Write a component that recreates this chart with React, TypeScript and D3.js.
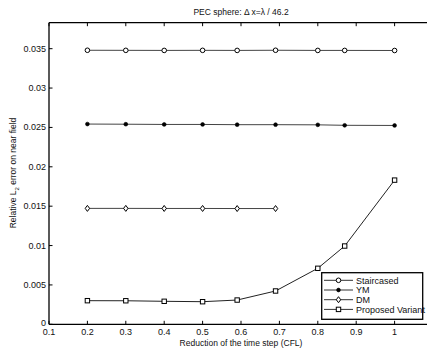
import React from "react";
import * as d3 from "d3";

const W = 427, H = 350;
const xTicks = [0.1, 0.2, 0.3, 0.4, 0.5, 0.6, 0.7, 0.8, 0.9, 1];
const yTicks = [0, 0.005, 0.01, 0.015, 0.02, 0.025, 0.03, 0.035];
const xFull = [0.2, 0.3, 0.4, 0.5, 0.59, 0.69, 0.8, 0.87, 1.0];
const staircased = [0.0348, 0.03479, 0.03478, 0.03479, 0.03478, 0.0348, 0.03478, 0.03478, 0.03477];
const ym = [0.02543, 0.02541, 0.02538, 0.02538, 0.02535, 0.02535, 0.02533, 0.02527, 0.02525];
const xDM = [0.2, 0.3, 0.4, 0.5, 0.59, 0.69];
const dm = [0.01472, 0.01472, 0.01471, 0.01471, 0.0147, 0.0147];
const proposed = [0.003, 0.00299, 0.00292, 0.00287, 0.00308, 0.00423, 0.00711, 0.00994, 0.01831];
const legendLabels = ["Staircased", "YM", "DM", "Proposed Variant"];

const x = d3.scaleLinear().domain([0.1, 1.1]).range([49, 433]);
const y = d3.scaleLinear().domain([0, 0.0383]).range([324.3, 22.7]);
const FONT = "'Liberation Sans', Arial, sans-serif";

function Marker({ kind, cx, cy }: { kind: string; cx: number; cy: number }) {
  if (kind === "circle") return <circle cx={cx} cy={cy} r={2.3} fill="white" stroke="black" strokeWidth={1} />;
  if (kind === "dot") return <circle cx={cx} cy={cy} r={1.9} fill="black" stroke="black" strokeWidth={0.6} />;
  if (kind === "diamond")
    return <path d={`M${cx},${cy - 3}L${cx + 2.2},${cy}L${cx},${cy + 3}L${cx - 2.2},${cy}Z`} fill="white" stroke="black" strokeWidth={1} />;
  return <rect x={cx - 2.2} y={cy - 2.2} width={4.4} height={4.4} fill="white" stroke="black" strokeWidth={1} />;
}

export default function App() {
  const line = d3.line<[number, number]>().x(d => x(d[0])).y(d => y(d[1]));
  const series = [
    { xs: xFull, ys: staircased, kind: "circle", color: "#444" },
    { xs: xFull, ys: ym, kind: "dot", color: "#444" },
    { xs: xDM, ys: dm, kind: "diamond", color: "#444" },
    { xs: xFull, ys: proposed, kind: "square", color: "#222" },
  ];
  const kinds = ["circle", "dot", "diamond", "square"];
  const x0 = x(0.1), x1 = x(1.1), y0 = y(0), y1 = y(0.0383);
  return (
    <svg width={W} height={H} style={{ position: "absolute", left: 0, top: 0, background: "white" }} fontFamily={FONT}>
      <rect x={0} y={0} width={W} height={H} fill="white" />
      {series.map((s, i) => (
        <g key={i}>
          <path d={line(s.xs.map((v, j) => [v, s.ys[j]]) as [number, number][]) || ""} fill="none" stroke={s.color} strokeWidth={1} />
          {s.xs.map((v, j) => <Marker key={j} kind={s.kind} cx={x(v)} cy={y(s.ys[j])} />)}
        </g>
      ))}
      <path d={`M${x0},${y1}H${x1}`} stroke="black" strokeWidth={1.3} />
      <path d={`M${x0},${y0}H${x1}`} stroke="black" strokeWidth={1.3} />
      <path d={`M${x0},${y1}V${y0}`} stroke="black" strokeWidth={1.3} />
      {xTicks.map(t => (
        <g key={t}>
          <line x1={x(t)} x2={x(t)} y1={y0} y2={y0 - 3.5} stroke="black" />
          <line x1={x(t)} x2={x(t)} y1={y1} y2={y1 + 3.5} stroke="black" />
          <text x={x(t)} y={y0 + 10.5} fontSize={9} textAnchor="middle" fill="#111">{t}</text>
        </g>
      ))}
      {yTicks.map(t => (
        <g key={t}>
          <line x1={x0} x2={x0 + 3.5} y1={y(t)} y2={y(t)} stroke="black" />
          <text x={x0 - 3} y={y(t) + (t === 0 ? 1.5 : 3)} fontSize={9} textAnchor="end" fill="#111">{t}</text>
        </g>
      ))}
      <text x={241} y={15} fontSize={8.5} textAnchor="middle" fill="#111">PEC sphere: Δ x=λ / 46.2</text>
      <text x={241} y={346} fontSize={8.5} textAnchor="middle" fill="#111">Reduction of the time step (CFL)</text>
      <text transform="translate(16,173) rotate(-90)" fontSize={8.5} textAnchor="middle" fill="#111">
        Relative L<tspan fontSize={6} dy={3}>2</tspan><tspan dy={-3}> error on near field</tspan>
      </text>
      <rect x={321.7} y={272.7} width={101} height={46.6} fill="white" stroke="black" strokeWidth={1.3} />
      {legendLabels.map((l, i) => {
        const ly = 280.3 + i * 9.7;
        return (
          <g key={l}>
            <line x1={324} x2={353} y1={ly} y2={ly} stroke="#333" strokeWidth={1} />
            <Marker kind={kinds[i]} cx={338.5} cy={ly} />
            <text x={356} y={ly + 3.2} fontSize={9} fill="#111">{l}</text>
          </g>
        );
      })}
    </svg>
  );
}
